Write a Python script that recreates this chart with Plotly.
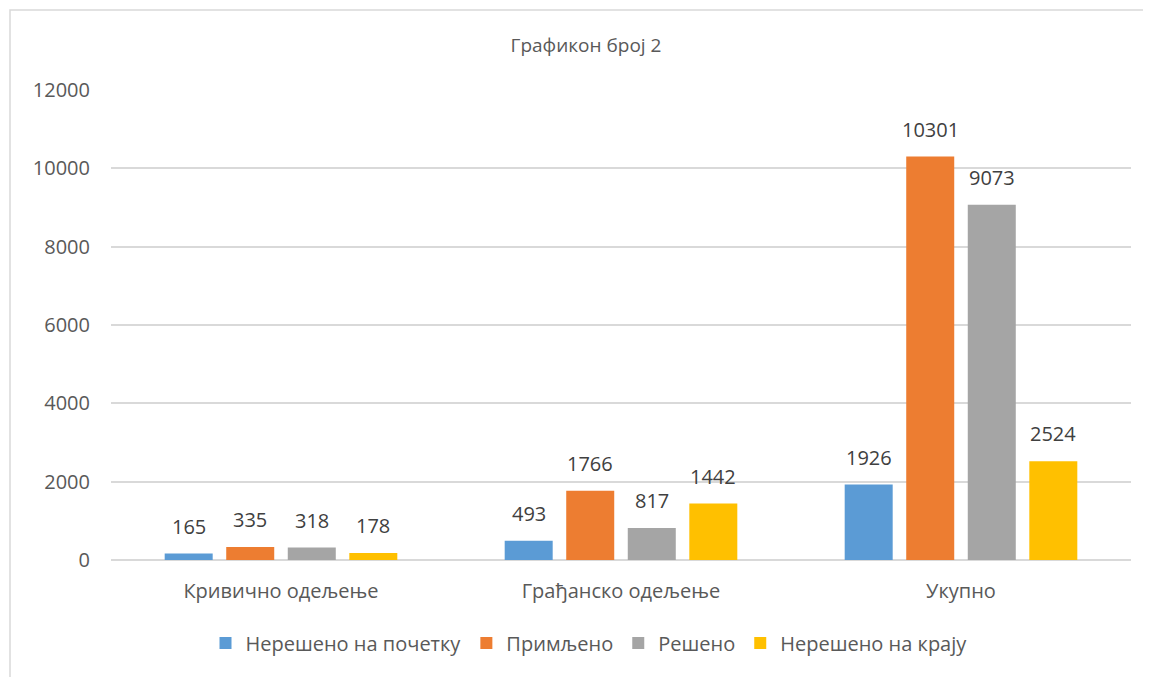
import plotly.graph_objects as go

categories = ["Кривично одељење", "Грађанско одељење", "Укупно"]
series_names = ["Нерешено на почетку", "Примљено", "Решено", "Нерешено на крају"]
nereseno_pocetak = [165, 493, 1926]
primljeno = [335, 1766, 10301]
reseno = [318, 817, 9073]
nereseno_kraj = [178, 1442, 2524]
colors = ["#5B9BD5", "#ED7D31", "#A5A5A5", "#FFC000"]
y_ticks = [0, 2000, 4000, 6000, 8000, 10000, 12000]
y_tick_labels = ["0", "2000", "4000", "6000", "8000", "10000", "12000"]

values = [nereseno_pocetak, primljeno, reseno, nereseno_kraj]
font_family = "Open Sans, Noto Sans, sans-serif"
text_color = "#595959"

# page body has an 8px margin; express positions in reference pixels and offset
OFF = 8
W, H = 1151, 677

L = 111 - OFF
T = 90 - OFF
Rpx = 1131 - OFF
Bpx = 560 - OFF
pw, ph = Rpx - L, Bpx - T

BARGAP = 0.276
n_series = len(series_names)
cat_px = pw / len(categories)
slot_px = cat_px * (1 - BARGAP) / n_series

fig = go.Figure()
annotations = []
for i, (name, vals, col) in enumerate(zip(series_names, values, colors)):
    fig.add_trace(go.Bar(
        x=categories, y=vals, name=name,
        marker=dict(color=col, line=dict(width=0)),
        cliponaxis=False,
    ))
    shift = (i - (n_series - 1) / 2) * slot_px
    for c, v in zip(categories, vals):
        annotations.append(dict(
            x=c, y=v, xref="x", yref="y", text=str(v), showarrow=False,
            xanchor="center", yanchor="bottom", xshift=shift, yshift=12,
            font=dict(size=20, color="#404040", family=font_family),
        ))

def px_x(p):
    return (p - OFF - L) / pw

def px_y(p):
    return 1 - (p - OFF - T) / ph

fig.update_layout(
    width=W, height=H,
    margin=dict(l=L, r=W - Rpx, t=T, b=H - Bpx, autoexpand=False),
    paper_bgcolor="white", plot_bgcolor="white",
    barmode="group", bargap=BARGAP, bargroupgap=0.22,
    font=dict(family=font_family, color=text_color),
    title=dict(text="Графикон број 2", x=px_x(586), xanchor="center", xref="paper",
               y=1 - (45 - OFF) / H, yanchor="middle",
               font=dict(size=19, color=text_color, family=font_family)),
    xaxis=dict(showgrid=False, showline=False, ticks="",
               tickfont=dict(size=20, color=text_color, family=font_family), ticklabelstandoff=17),
    yaxis=dict(range=[0, 12000], tickvals=y_ticks, ticktext=y_tick_labels,
               showgrid=True, gridcolor="#D9D9D9", gridwidth=1.5,
               zeroline=True, zerolinecolor="#D9D9D9", zerolinewidth=1.5, showline=False,
               tickfont=dict(size=20, color=text_color, family=font_family), ticklabelstandoff=20),
    legend=dict(orientation="h", x=px_x(589), xanchor="center", y=px_y(643), yanchor="middle",
                font=dict(size=20, color=text_color, family=font_family),
                traceorder="normal"),
    annotations=annotations,
    shapes=[dict(type="rect", xref="paper", yref="paper",
                 x0=px_x(10), x1=px_x(1200), y0=px_y(720), y1=px_y(10),
                 line=dict(color="#D9D9D9", width=1.5), fillcolor="rgba(0,0,0,0)", layer="below")],
)

fig.write_html("out.html")
